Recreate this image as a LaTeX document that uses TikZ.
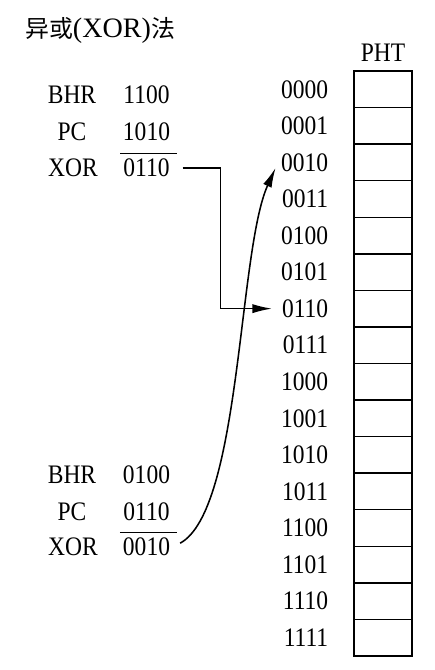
\documentclass[tikz,border=0pt]{standalone}
\usepackage{fontspec}
\setmainfont[FakeStretch=0.88]{Liberation Serif}
\newfontfamily\titlefont{Liberation Serif}
\newfontfamily\cjk{Noto Sans CJK SC}
\usetikzlibrary{positioning,arrows.meta}

\begin{document}
\begin{tikzpicture}[x=0.025cm, y=-0.025cm,
    txt/.style={font=\fontsize{19}{21}\selectfont, inner sep=2pt},
    cell/.style={draw, line width=1pt, minimum width=1.45cm, minimum height=0.914cm, inner sep=0pt},
    arr/.style={-{Latex[length=14pt, width=6.5pt]}, line width=1.1pt},
]
\useasboundingbox (0,0) rectangle (434,670);

\node[anchor=west, inner sep=2pt] (title) at (22,30)
  {\fontsize{17}{20}\selectfont\cjk 异或{\titlefont\fontsize{20}{20}\selectfont(XOR)}法};

% PHT table with its index column
\foreach \i/\bits in {0/0000,1/0001,2/0010,3/0011,4/0100,5/0101,6/0110,7/0111,
                      8/1000,9/1001,10/1010,11/1011,12/1100,13/1101,14/1110,15/1111} {
  \node[cell] (c\i) at (383, {71+36.56*(\i+0.5)}) {};
  \node[txt, left=0.55cm of c\i] (a\i) {\bits};
}
\node[txt, above=0.15cm of c0] (pht) {PHT};

% first example
\node[txt] (bhr1) at (72,95) {BHR};
\node[txt] (pc1) at (72,132) {PC};
\node[txt] (xor1) at (73,168) {XOR};
\node[txt] (bhr1v) at (146.5,95) {1100};
\node[txt] (pc1v) at (146.5,132) {1010};
\node[txt] (xor1v) at (146.5,168) {0110};
\draw[line width=1pt] ([yshift=1.5pt]xor1v.north west) -- ([xshift=3pt, yshift=1.5pt]xor1v.north east);

% second example
\node[txt] (bhr2) at (72,475) {BHR};
\node[txt] (pc2) at (72,512) {PC};
\node[txt] (xor2) at (73,547) {XOR};
\node[txt] (bhr2v) at (146.5,475) {0100};
\node[txt] (pc2v) at (146.5,512) {0110};
\node[txt] (xor2v) at (146.5,547) {0010};
\draw[line width=1pt] ([yshift=1.5pt]xor2v.north west) -- ([xshift=3pt, yshift=1.5pt]xor2v.north east);

\draw[arr, shorten <=0.25cm, shorten >=0.17cm] (xor1v.east) -- ++(48,0) |- (a6.west);
\draw[arr, shorten <=0.2cm, shorten >=0.15cm] (xor2v.east) .. controls +(68,-37) and +(-40,88) .. (a2.west);
\end{tikzpicture}
\end{document}
